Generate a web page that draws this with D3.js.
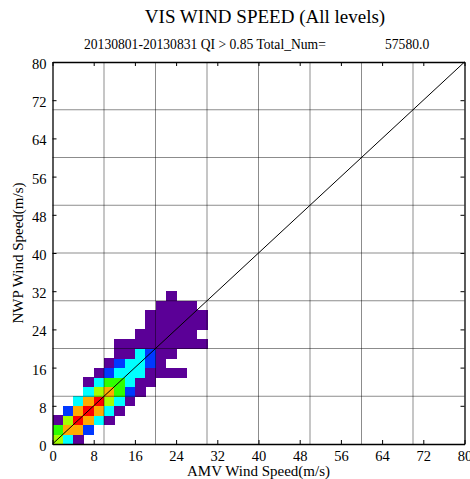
<!DOCTYPE html>
<html>
<head>
<meta charset="utf-8">
<script src="https://cdn.jsdelivr.net/npm/d3@7"></script>
<style>
  html, body { margin: 0; padding: 0; background: #fff; }
  svg { display: block; }
  text { font-family: "Liberation Serif", "Times New Roman", serif; fill: #000; }
</style>
</head>
<body>
<svg id="chart" width="470" height="479"></svg>
<script>
// Axis extent and tick labels (m/s)
const axisDomain = [0, 80];
const tickValues = [0, 8, 16, 24, 32, 40, 48, 56, 64, 72, 80];
const gridValues = [10, 20, 30, 40, 50, 60, 70];

// 2-D histogram: bins are 2 m/s wide. For each NWP bin row (from 0 m/s upward),
// the first occupied AMV bin index and the density level of each consecutive bin.
const binWidth = 2;
const rowStart = [0, 0, 0, 1, 2, 3, 3, 4, 5, 6, 6, 8, 9, 9, 10, 11];
const rowLevels = [
  [5, 3, 1],
  [4, 6, 6, 2],
  [1, 5, 7, 6, 3, 1],
  [2, 6, 7, 6, 3, 1],
  [3, 6, 7, 5, 3, 1],
  [3, 5, 6, 4, 2, 1],
  [1, 3, 4, 4, 3, 1, 1],
  [1, 2, 3, 3, 3, 1, 1, 1, 1],
  [1, 2, 3, 3, 2, 1],
  [1, 1, 3, 2, 1, 1],
  [1, 1, 1, 1, 1, 1, 1, 1, 1],
  [1, 1, 1, 1, 1, 1],
  [1, 1, 1, 1, 1, 1],
  [1, 1, 1, 1, 1, 1],
  [1, 1, 1, 1],
  [1]
];
const levelColors = ["#5b0097", "#0038ff", "#00ffff", "#2eff00", "#a5ff00", "#ffaa00", "#ff0000"];

const titleText = "VIS WIND SPEED (All levels)";
const subtitleText = "20130801-20130831 QI > 0.85 Total_Num=";
const totalNum = 57580.0;
const xLabel = "AMV Wind Speed(m/s)";
const yLabel = "NWP Wind Speed(m/s)";

// Flatten histogram rows into cells
const cells = [];
rowLevels.forEach((levels, j) => {
  levels.forEach((lv, k) => {
    if (lv > 0) cells.push({ x0: (rowStart[j] + k) * binWidth, y0: j * binWidth, level: lv });
  });
});

const svg = d3.select("#chart");
const x = d3.scaleLinear().domain(axisDomain).range([52.5, 464.5]);
const y = d3.scaleLinear().domain(axisDomain).range([444, 62]);
const color = d3.scaleOrdinal().domain(d3.range(1, 8)).range(levelColors);

// Density cells
svg.append("g").attr("shape-rendering", "crispEdges")
  .selectAll("rect").data(cells).join("rect")
  .attr("x", d => x(d.x0))
  .attr("y", d => y(d.y0 + binWidth))
  .attr("width", d => x(d.x0 + binWidth) - x(d.x0) + 0.5)
  .attr("height", d => y(d.y0) - y(d.y0 + binWidth) + 0.5)
  .attr("fill", d => color(d.level));

// Grid lines every 10 m/s
const grid = svg.append("g").attr("stroke", "#000").attr("stroke-opacity", 0.45).attr("stroke-width", 1);
grid.selectAll("line.v").data(gridValues).join("line").attr("class", "v")
  .attr("x1", d => x(d)).attr("x2", d => x(d)).attr("y1", y(0)).attr("y2", y(80));
grid.selectAll("line.h").data(gridValues).join("line").attr("class", "h")
  .attr("y1", d => y(d)).attr("y2", d => y(d)).attr("x1", x(0)).attr("x2", x(80));

// One-to-one line
svg.append("line")
  .attr("x1", x(0)).attr("y1", y(0)).attr("x2", x(80)).attr("y2", y(80))
  .attr("stroke", "#000").attr("stroke-width", 1);

// Axes with inward ticks on all four sides
const tickLen = 4;
const axisBottomG = svg.append("g").attr("transform", `translate(0,${y(0)})`)
  .call(d3.axisBottom(x).tickValues(tickValues).tickSizeInner(-tickLen).tickSizeOuter(0).tickPadding(7));
const axisTopG = svg.append("g").attr("transform", `translate(0,${y(80)})`)
  .call(d3.axisTop(x).tickValues(tickValues).tickSizeInner(-tickLen).tickSizeOuter(0).tickFormat(""));
const axisLeftG = svg.append("g").attr("transform", `translate(${x(0)},0)`)
  .call(d3.axisLeft(y).tickValues(tickValues).tickSizeInner(-tickLen).tickSizeOuter(0).tickPadding(6));
const axisRightG = svg.append("g").attr("transform", `translate(${x(80)},0)`)
  .call(d3.axisRight(y).tickValues(tickValues).tickSizeInner(-tickLen).tickSizeOuter(0).tickFormat(""));

[axisBottomG, axisTopG, axisLeftG, axisRightG].forEach(g => {
  g.select(".domain").attr("stroke", "#000").attr("stroke-width", 1.3);
  g.selectAll(".tick line").attr("stroke", "#000");
  g.selectAll("text").style("font-family", "'Liberation Serif', 'Times New Roman', serif")
    .style("font-size", "14.5px").attr("fill", "#000");
});
axisLeftG.selectAll(".tick text").attr("dy", "0.45em");

// Titles
svg.append("text").attr("x", 265).attr("y", 23).attr("text-anchor", "middle")
  .style("font-size", "19px").text(titleText);
svg.append("text").attr("x", 84).attr("y", 49)
  .style("font-size", "13.6px").text(subtitleText);
svg.append("text").attr("x", 385).attr("y", 49)
  .style("font-size", "13.6px").text(d3.format(".1f")(totalNum));

// Axis titles
svg.append("text").attr("x", (x(0) + x(80)) / 2).attr("y", 476).attr("text-anchor", "middle")
  .style("font-size", "15px").text(xLabel);
svg.append("text")
  .attr("transform", `translate(23,${(y(0) + y(80)) / 2}) rotate(-90)`)
  .attr("text-anchor", "middle")
  .style("font-size", "15px").text(yLabel);
</script>
</body>
</html>
